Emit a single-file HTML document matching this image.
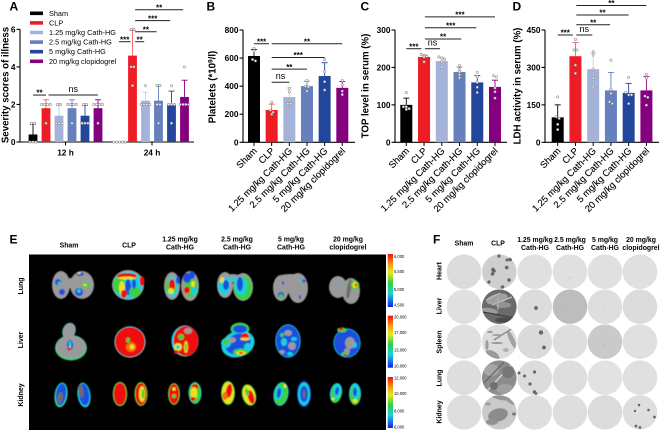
<!DOCTYPE html>
<html>
<head>
<meta charset="utf-8">
<style>
html,body{margin:0;padding:0;background:#fff;width:660px;height:431px;overflow:hidden}
svg{display:block;filter:blur(0.3px)}
text{font-family:"Liberation Sans",sans-serif;fill:#000}
</style>
</head>
<body>
<svg id="fig" xmlns="http://www.w3.org/2000/svg" width="660" height="431" viewBox="0 0 660 431">
<defs>
<filter id="soft" x="-20%" y="-20%" width="140%" height="140%"><feGaussianBlur stdDeviation="0.55"/></filter>
<linearGradient id="heat" x1="0" y1="0" x2="0" y2="1">
<stop offset="0" stop-color="#f01010"/><stop offset=".2" stop-color="#f0a010"/><stop offset=".35" stop-color="#e8e820"/><stop offset=".55" stop-color="#30d040"/><stop offset=".75" stop-color="#18d0e0"/><stop offset="1" stop-color="#1020e0"/>
</linearGradient>
<clipPath id="clip-clp-liver"><circle cx="499.3" cy="306.7" r="17.2"/></clipPath>
<clipPath id="clip-clp-lung"><circle cx="499.3" cy="377.7" r="17.2"/></clipPath>
<clipPath id="clip-clp-kidney"><circle cx="499.3" cy="412.3" r="17.2"/></clipPath>
<clipPath id="clip-clp-spleen"><circle cx="499.3" cy="341.7" r="17.2"/></clipPath>
</defs>
<rect x="0" y="0" width="660" height="431" fill="#fff"/>
<rect x="29" y="254.5" width="357" height="175.5" fill="#000"/>
<g id="charts"></g>
<g id="organs" filter="url(#soft)"></g>
<g id="plates"></g>
<g id="labels"></g>
</svg>
<script>
const categories = ['Sham','CLP','1.25 mg/kg Cath-HG','2.5 mg/kg Cath-HG','5 mg/kg Cath-HG','20 mg/kg clopidogrel'];
const seriesColors = ['#000000','#ee1c25','#a5b3d9','#6580bd','#21469b','#85007f'];
const groupsA = ['12 h','24 h'];
const ticksA = [0,2,4,6];
const means12 = [0.4,1.8,1.4,1.8,1.4,1.8];
const sd12 = [0.55,0.45,0.55,0.45,0.55,0.45];
const pts12 = [[1,1,0,0,0],[2,2,2,2,1],[2,2,1,1,1],[2,2,2,2,1],[2,2,1,1,1],[2,2,2,2,1]];
const means24 = [0,4.6,2.2,2.2,2,2.4];
const sd24 = [0,1.34,0.45,0.84,0.71,0.89];
const pts24 = [[0,0,0,0,0],[6,6,4,4,3],[3,2,2,2,2],[3,3,2,2,1],[3,2,2,2,1],[4,2,2,2,2]];
const sigA = [[0,1,2.5,'**'],[1.2,5,2.5,'ns'],[5.95,6.85,5.34,'***'],[7.2,7.9,5.34,'**'],[7.2,8.85,5.87,'**'],[7.2,9.9,6.46,'***'],[7.2,10.9,7.04,'**']];
const ticksB = [0,200,400,600,800];
const meansB = [615,230,322,400,472,388];
const sdB = [45,42,65,35,95,45];
const ptsB = [[670,650,590,580],[285,230,215,200],[385,360,275,275],[440,400,395,365],[590,503,432,373],[440,410,365,340]];
const sigB = [[0,0.85,702,'***'],[1,5,702,'**'],[1,4,604,'***'],[1,3,521,'**'],[1,2,428,'ns']];
const ticksC = [0,100,200,300];
const meansC = [100,228,217,188,160,148];
const sdC = [18,5,8,13,18,18];
const ptsC = [[133,95,95,90,88],[235,232,230,228,215],[228,225,222,215,200],[205,195,188,180,172],[187,175,160,147,133],[178,175,145,135,118]];
const sigC = [[0,0.85,250,'***'],[1.05,1.9,250,'ns'],[1.05,3.1,276,'**'],[1.05,3.95,306,'***'],[1.05,5,335,'***']];
const ticksD = [0,150,300,450];
const meansD = [100,345,293,208,198,208];
const sdD = [50,55,65,72,38,55];
const ptsD = [[182,102,96,72,51],[412,370,370,309,276],[363,350,293,256,222],[329,212,196,162,155],[260,200,190,190,155],[272,258,185,180,149]];
const sigD = [[0,0.85,430,'***'],[1.05,1.95,430,'ns'],[1.05,2.95,471,'**'],[1.05,4,510,'**'],[1.05,5,548,'**']];

const NS = 'http://www.w3.org/2000/svg';
function make(tag, parent, attrs, txt){
  const el = document.createElementNS(NS, tag);
  for (const k in attrs) el.setAttribute(k, attrs[k]);
  if (txt !== undefined) el.textContent = txt;
  parent.appendChild(el);
  return el;
}
const chartsG = document.getElementById('charts');

function drawAxes(g, id, x0, xEnd, yFn, ticks, title, titleX, titleCy){
  let el = make('line', g, {x1:x0, x2:x0, y1:yFn(ticks[ticks.length-1]), y2:yFn(ticks[0]), stroke:'#000','stroke-width':1.1});
  
  
  el = make('line', g, {x1:x0-0.5, x2:xEnd, y1:yFn(ticks[0]), y2:yFn(ticks[0]), stroke:'#000','stroke-width':1.1});
  
  
  ticks.forEach(function(t){
    const m = make('line', g, {x1:x0-3.5, x2:x0, y1:yFn(t), y2:yFn(t), stroke:'#000','stroke-width':1.1});
    
    
    const l = make('text', g, {x:x0-4.5, y:yFn(t)+3, 'text-anchor':'end','font-size':8.3,'font-weight':'bold'}, String(t));
    
    
  });
  const tt = make('text', g, {transform:'translate('+titleX+','+titleCy+') rotate(-90)','text-anchor':'middle','font-size':9.7,'font-weight':'bold'}, '');
  
  
  title.forEach(function(p){
    const s = make('tspan', tt, p.sup ? {dy:-3,'font-size':6.5} : (p.after ? {dy:3} : {}), p.t);
    
    
  });
}

function drawBar(g, id, cat, cx, yFn, mean, sd, pts, color, maxV, bw){
  const top = yFn(mean), base = yFn(0);
  let el = make('rect', g, {x:cx-bw/2, y:top, width:bw, height:Math.max(base-top,0), fill:color});
  
  
  if (sd > 0){
    const up = yFn(mean+sd);
    const errColor = color === '#ee1c25' ? '#f0606a' : (color === '#a5b3d9' ? '#c4cee8' : color);
    el = make('line', g, {x1:cx, x2:cx, y1:up, y2:top, stroke:errColor,'stroke-width':0.9});
    
    
    el = make('line', g, {x1:cx-3, x2:cx+3, y1:up, y2:up, stroke:errColor,'stroke-width':0.9});
    
    
  }
  const tol = 2.6;
  const placed = pts.map(function(v){ return {v:v, y:yFn(v), dx:0}; });
  const used = placed.map(function(){ return false; });
  placed.forEach(function(p,i){
    if (used[i]) return;
    const grp = [];
    placed.forEach(function(q,j){ if(!used[j] && Math.abs(q.y-p.y) < tol){ grp.push(q); used[j]=true; } });
    grp.forEach(function(q,k){ q.dx = (k-(grp.length-1)/2)*2.9; });
  });
  placed.forEach(function(p){
    const c = make('circle', g, {cx:cx+p.dx, cy:p.y, r:1.15, fill:'#fff', stroke:'#8a8a8a','stroke-width':0.55});
    
    
  });
}

function drawSig(g, id, list, xFn, yFn){
  list.forEach(function(s){
    const x1 = xFn(s[0]), x2 = xFn(s[1]), y = yFn(s[2]);
    const ln = make('line', g, {x1:x1, x2:x2, y1:y, y2:y, stroke:'#222','stroke-width':1});
    
    
    const isNs = s[3] === 'ns';
    const t = make('text', g, {x:(x1+x2)/2, y: isNs ? y-3 : y+0.6, 'text-anchor':'middle','font-size': isNs ? 9 : 8,'font-weight': isNs ? 'normal' : 'bold'}, s[3]);
    
    
  });
}

function drawPanel(id, x0, xEnd, first, step, maxV, ticks, means, sds, pts, sig, title, titleX, titleCy){
  const g = make('g', chartsG, {});
  
  
  const yFn = function(v){ return 142.3 - v/maxV*112.3; };
  const xFn = function(i){ return first + i*step; };
  drawAxes(g, id, x0, xEnd, yFn, ticks, title, titleX, titleCy);
  means.forEach(function(m,i){
    drawBar(g, id, i, xFn(i), yFn, m, sds[i], pts[i], seriesColors[i], maxV, 12);
    const tk = make('line', g, {x1:xFn(i), x2:xFn(i), y1:142.3, y2:146, stroke:'#000','stroke-width':1});
    
    
    const l = make('text', g, {transform:'translate('+(xFn(i)+3.5)+',151.5) rotate(-45)','text-anchor':'end','font-size':9.4,'stroke':'#000','stroke-width':0.12}, categories[i]);
    
    
  });
  drawSig(g, id, sig, xFn, yFn);
}

/* Panel A */
(function(){
  const g = make('g', chartsG, {});
  
  
  const yFn = function(v){ return 142 - v*18.78; };
  const xFn = function(i){ return i <= 5.5 ? 33 + i*13 : 119.5 + (i-6)*13; };
  drawAxes(g, 'a', 20, 194, yFn, ticksA, [{t:'Severity scores of illness'}], 8.5, 85);
  means12.forEach(function(m,i){ drawBar(g, 'a-12h', i, xFn(i), yFn, m, sd12[i], pts12[i], seriesColors[i], 6, 8.8); });
  means24.forEach(function(m,i){ drawBar(g, 'a-24h', i, xFn(i+6), yFn, m, sd24[i], pts24[i], seriesColors[i], 6, 8.8); });
  [65.5,152].forEach(function(x,i){
    const tk = make('line', g, {x1:x, x2:x, y1:142, y2:145.5, stroke:'#000','stroke-width':1});
    
    
    const l = make('text', g, {x:x, y:155.5, 'text-anchor':'middle','font-size':8.3,'font-weight':'bold'}, groupsA[i]);
    
    
  });
  drawSig(g, 'a', sigA, xFn, yFn);
  categories.forEach(function(c,i){
    const yy = 13.3 + i*9.6;
    const sw = make('rect', g, {x:30, y:yy-1.8, width:13, height:3.6, fill:seriesColors[i]});
    
    
    const t = make('text', g, {x:49, y:yy+2.5, 'font-size':7.3, fill:'#222'}, c);
    
    
  });
})();

drawPanel('b', 243, 355, 254, 17.66, 800, ticksB, meansB, sdB, ptsB, sigB, [{t:'Platelets (*10'},{t:'9',sup:true},{t:'/l)',after:true}], 215.5, 87);
drawPanel('c', 395, 507, 406.3, 17.74, 300, ticksC, meansC, sdC, ptsC, sigC, [{t:'TOP level in serum (%)'}], 368.5, 86);
drawPanel('d', 545, 659, 557.7, 17.74, 450, ticksD, meansD, sdD, ptsD, sigD, [{t:'LDH activity in serum (%)'}], 520.5, 86);

/* Panel E blobs */
const G='#9a9a9a',DG='#6c6c6c',B='#1a4fe0',C='#18d0e0',N='#3cd040',Y='#f0e020',R='#f01010',O='#f07010';
const organs = {
 'lung-sham':[[G,61,285,9,14,0],[G,82,285,12,14,0],[G,71,283,7,5,0],[B,58,282,3,3,0],[B,62,292,3,3,0],[C,59,283,1.5,1.5,0],[B,79,292,4,4,0],[C,79,291,2,2,0],[N,86,285,5,2,0],[Y,85,285,2,1,0],[B,80,274,4,2,0],[Y,79,273,2,1,0]],
 'lung-clp':[[G,128,285,16,15,0],[C,128,285,15,14,0],[N,119,285,6,8,0],[R,127,276,10,3,0],[Y,127,278,9,1.5,0],[R,142,281,2.5,5,0],[Y,122,288,3,7,0],[B,128,287,3,8,0],[N,135,292,6,5,0],[R,124,294,3,4,0],[B,134,284,2,5,0]],
 'lung-125':[[G,172,286,8,14,0],[G,190,286,9,15,0],[C,172,287,6,10,0],[N,171,287,5,7,0],[R,172,285,3,6,0],[Y,171,291,3,3,0],[B,178,280,2,4,0],[N,191,288,7,9,0],[B,187,278,4,5,0],[R,187,290,3,3.5,0],[Y,193,284,2,3,0],[B,192,275,3,4,0],[C,194,291,3,4,0]],
 'lung-25':[[G,225,285,8,13,0],[G,243,287,10,14,0],[G,233,278,8,4,0],[C,224,286,6,9,0],[B,226,285,3,5,0],[Y,222,280,2,3,0],[N,243,288,9,12,0],[C,241,286,6,9,0],[B,240,284,3,7,0],[C,233,279,5,2,0]],
 'lung-5':[[G,281,288,8,13,0],[G,298,288,10,15,0],[G,290,279,14,5,0],[B,281,295,3,3,0],[N,281,296,2,2,0],[B,303,281,3,1.5,0],[B,283,283,1,2,0],[B,300,297,1,2,0],[C,301,281,2,1,0]],
 'lung-20':[[G,338,287,9,11,0],[G,351,291,9,13,0],[DG,349,289,2,10,10],[N,355,285,4.5,4.5,0],[Y,355,285,2.5,3,0],[R,356,285,1.2,1.5,0],[C,340,286,0.8,0.8,0]],
 'liver-sham':[[C,69,331,6.5,8.5,20],[N,71,348,16,12.5,0],[C,71,347,15.5,12,0],[G,69,331,6,8,20],[G,71,347,15,11.5,0],[B,70,345,3,5,0],[C,70,344,1.5,3,0],[R,69,349,1.5,1.8,0],[Y,70,347,1,1,0]],
 'liver-clp':[[C,130,342,15.7,15.7,0],[R,130,342,15,15,0],[O,131,347,5,5,0],[N,128,340,2,2.5,0],[Y,132,347,2.5,2.5,0]],
 'liver-125':[[C,185,341,13.6,15.6,0],[R,186,341,12.5,15,0],[G,188,331,4,3,0],[N,181,337,3,3,0],[Y,178,347,4,4,0],[C,178,347,2,2,0],[Y,186,347,2,6,0],[N,186,347,1,4,0],[R,176,352,2,2,0]],
 'liver-25':[[N,240,329,9.5,6.5,0],[C,238,344,17,13,-20],[B,240,329,7,4,0],[B,238,344,13,10,-20],[C,226,343,5,5,0],[N,226,342,3,3,0],[G,232,340,4,3,0],[R,245,337,4,4,0],[Y,245,339,5,1.5,0],[N,241,352,8,3.5,0],[Y,241,353,5,2,0],[R,241,353,2,1,0],[C,248,347,4,4,0]],
 'liver-5':[[C,288,341,12.7,16.7,0],[B,288,341,12,16,0],[G,288,333,4,3,0],[C,284,342,3,4,0],[G,292,346,4,4,0],[C,294,339,3,2,0],[G,282,352,3,2,0],[N,282,335,2,2,0],[C,290,354,3,2,0]],
 'liver-20':[[C,347,343,13.6,14.6,0],[B,347,343,13,14,0],[G,350,343,5,6,0],[N,342,330,5,2.5,0],[R,341,329,2,1.5,0],[G,347,351,3,3,0],[N,345,354,4,2,0],[R,345,355,2,1,0],[C,355,345,2,3,0]],
 'kidney-sham-l':[[N,61,395,6.5,12.5,8],[C,61,394.5,6,12,8],[B,61,394.5,5,11,8],[DG,60,398,3,6,10]],
 'kidney-sham-r':[[C,84,395,6.5,12.5,-8],[B,84,394.5,5.2,11,-8],[DG,81,391,2.5,7,-8]],
 'kidney-clp-l':[[N,120,394,7.3,12.3,0],[R,120,394,6.3,11.3,0]],
 'kidney-clp-r':[[N,141,394,6.6,12,0],[R,141,394,5.6,11,0],[Y,142,394,3.2,8,0],[N,143,394,1.4,5,0]],
 'kidney-125-l':[[N,174,394,6,11,0],[R,174,394,5,10,0],[Y,174,389,1.8,1.8,0],[N,174,396,2,2,0]],
 'kidney-125-r':[[C,195,393,6.5,11,0],[N,195,393,5.8,10.3,0],[R,195,387,3.5,3,0],[Y,194,393,3.5,6,0],[R,193,399,2.5,2,0],[N,198,391,1,3,0]],
 'kidney-25-l':[[N,228,393,7,12,0],[Y,228,393,6,11,0],[R,229,391,3,7,10],[O,225,396,2.5,4,0]],
 'kidney-25-r':[[N,249,395,7,11,-15],[Y,249,395,6,10,-15],[R,251,397,3,7,-15],[N,247,392,1.8,4,-15]],
 'kidney-5-l':[[C,281,394,7.5,12,10],[N,281,394,6.5,11,10],[C,279,393,3.5,7,10],[B,279,393,2,5,10],[Y,285,386,1.5,2,0]],
 'kidney-5-r':[[B,304,394,7,13,0],[C,304,394,6,11.5,0],[B,304,394,4,8,0],[DG,304,394,1.8,4,0]],
 'kidney-20-l':[[C,336,393,6,10,10],[N,336,394,5.3,9,10],[C,337,392,3.6,6.5,10],[B,337,391,1.8,4,10],[Y,333,399,1.5,1.5,0]],
 'kidney-20-r':[[C,355,394,6,11,0],[N,355,395,5.2,10,0],[C,356,392,3.4,7,0],[B,355,392,1.8,4.5,0],[Y,355,401,2.5,2,0]]
};
const organsG = document.getElementById('organs');
Object.keys(organs).forEach(function(name){
  const g = make('g', organsG, {});
  
  
  organs[name].forEach(function(s){
    make('ellipse', g, {cx:s[1], cy:s[2], rx:s[3], ry:s[4], fill:s[0], transform:'rotate('+s[5]+' '+s[1]+' '+s[2]+')'});
  });
});

/* Panel F plates */
const plateX = [464,499.3,534.7,570,605,640];
const plateY = [271.7,306.7,341.7,377.7,412.3];
const plateFill = [
 ['#dcdcdc','#cfcfcf','#e0e0e0','#e0e0e0','#e0e0e0','#e0e0e0'],
 ['#e0e0e0','#6a6a6a','#dcdcdc','#bdbdbd','#dedede','#dcdcdc'],
 ['#e0e0e0','#dcdcdc','#dadada','#dedede','#cacaca','#e0e0e0'],
 ['#dedede','#8c8c8c','#dcdcdc','#dedede','#e2e2e2','#e0e0e0'],
 ['#dedede','#cacaca','#dedede','#dedede','#dcdcdc','#dedede']
];
const colonies = [
 [499,256,1.6],[510,259.5,1.8],[510.5,260,1.4],[507,260,1.5],[493,270,1.8],[492.5,274,1.8],[494,271,1.8],[489,282,1.6],[509,280,1.8],[502.5,287,1.8],[506.7,267.6,1.8],[493,269,1.5],
 [536,308,1.9],
 [541,332.5,2.2],[544,347.5,1.9],
 [519,373,1.5],[524.5,376,1.5],[534.5,372,1.6],[530,384,1.6],[534.5,392,1.7],[536,393.5,1.4],
 [639,405,1.3],[648.5,410,1.3],[635,411,1.2],[654.5,417,1.4],[636,426,1.4],[640,427.5,1.4]
];
const platesG = document.getElementById('plates');
plateY.forEach(function(y,r){
  plateX.forEach(function(x,c){
    const p = make('circle', platesG, {cx:x, cy:y, r:17.3, fill:plateFill[r][c]});
    
    
  });
});
function clpTexture(clip, items){
  const g = make('g', platesG, {'clip-path':'url(#' + clip + ')'});
  
  
  items.forEach(function(i){
    if (i[0] === 'l') make('line', g, {x1:i[1], y1:i[2], x2:i[3], y2:i[4], stroke:i[5], 'stroke-width':i[6]});
    else make('ellipse', g, {cx:i[1], cy:i[2], rx:i[3], ry:i[4], fill:i[5], transform:'rotate('+(i[6]||0)+' '+i[1]+' '+i[2]+')'});
  });
}
clpTexture('clip-clp-liver',[['e',497,299,11,5,'#a0a0a0',-15],['l',486,300,500,293,'#bdbdbd',1.2],['l',492,305,512,297,'#bdbdbd',1.4],['e',503,305,8,3,'#929292',0],['e',490,311,8,3,'#9c9c9c',10],['l',483,312,515,318,'#3c3c3c',1.2],['e',504,320,9,2.5,'#4a4a4a',0],['l',498,298,498,310,'#b8b8b8',1]]);
clpTexture('clip-clp-spleen',[['e',492,356,8,5,'#9a9a9a',30],['e',487,345,1.6,5,'#9c9c9c',0],['e',512,340,2.5,10,'#a2a2a2',-25],['l',494,340,516,326,'#8a8a8a',1.4],['e',497,343,6,0.9,'#8e8e8e',0],['e',497,335,5,0.9,'#9a9a9a',0],['e',506,350,3,2,'#b0b0b0',0],['e',490,332,3,0.9,'#8e8e8e',0]]);
clpTexture('clip-clp-lung',[['l',486,392,514,362,'#d4d4d4',1.4],['e',491,370,8,6,'#a6a6a6',0],['e',505,389,9,5,'#a0a0a0',0],['l',484,383,504,362,'#606060',1],['e',508,372,6,6,'#767676',0],['e',494,386,4,4,'#707070',0]]);
clpTexture('clip-clp-kidney',[['e',498,415,10,6.5,'#8c8c8c',-15],['e',492,422,6,3,'#929292',0],['e',502,398,10,2.2,'#969696',10],['e',511,402,5,1.8,'#9c9c9c',30],['e',514,414,2,1.5,'#7a7a7a',0],['e',488,404,3,1.6,'#a0a0a0',0]]);
colonies.forEach(function(d){
  const c = make('circle', platesG, {cx:d[0], cy:d[1], r:d[2], fill:'#666'});
  
  
});
[[570,278,0.5],[605,307,0.4],[566,307,0.3],[604,346,0.5],[640,371,0.4],[641,384,0.4]].forEach(function(d){
  const c = make('circle', platesG, {cx:d[0], cy:d[1], r:d[2], fill:'#888'});
  
  
});

/* Labels */
const labelsG = document.getElementById('labels');
const panelLetters = [['A',9.5,10.5],['B',206.5,10.5],['C',360.5,10.5],['D',512.5,10.5],['E',9.5,243.5],['F',433,243.5]];
panelLetters.forEach(function(p){
  const t = make('text', labelsG, {x:p[1], y:p[2], 'font-size':12,'font-weight':'bold',fill:'#000'}, p[0]);
  
  
});
const colE = [[69,['Sham']],[129,['CLP']],[180,['1.25 mg/kg','Cath-HG']],[237,['2.5 mg/kg','Cath-HG']],[291,['5 mg/kg','Cath-HG']],[348,['20 mg/kg','clopidogrel']]];
colE.forEach(function(c){
  c[1].forEach(function(line,i){
    const y = c[1].length === 1 ? 247.5 : 241.5 + i*8;
    const t = make('text', labelsG, {x:c[0], y:y, 'text-anchor':'middle','font-size':6.9,'font-weight':'bold'}, line);
    
    
  });
});
[['Lung',286],['Liver',340],['Kidney',395]].forEach(function(r){
  const t = make('text', labelsG, {transform:'translate(23,'+r[1]+') rotate(-90)','text-anchor':'middle','font-size':7,'font-weight':'bold'}, r[0]);
  
  
});
const colF = [[464,['Sham']],[498,['CLP']],[535,['1.25 mg/kg','Cath-HG']],[570,['2.5 mg/kg','Cath-HG']],[605,['5 mg/kg','Cath-HG']],[641,['20 mg/kg','clopidogrel']]];
colF.forEach(function(c){
  c[1].forEach(function(line,i){
    const y = c[1].length === 1 ? 245.5 : 242 + i*8;
    const t = make('text', labelsG, {x:c[0], y:y, 'text-anchor':'middle','font-size':6.9,'font-weight':'bold'}, line);
    
    
  });
});
[['Heart',271],['Liver',306],['Spleen',342],['Lung',378],['Kidney',412]].forEach(function(r){
  const t = make('text', labelsG, {transform:'translate(441.5,'+r[1]+') rotate(-90)','text-anchor':'middle','font-size':7,'font-weight':'bold'}, r[0]);
  
  
});
const colorbars = [[254,53,['6,000','5,500','5,000','4,500'],[256.7,271.7,289.7,305.3]],[315.7,52,['20,000','17,000','13,000','10,000'],[317.3,332.7,350.3,366]],[377,51,['12,000','10,000','8,000','6,000'],[378.3,393.7,411.3,427]]];
colorbars.forEach(function(b){
  const r = make('rect', labelsG, {x:387.7, y:b[0], width:5.3, height:b[1], fill:'url(#heat)'});
  
  
  b[2].forEach(function(s,i){
    const t = make('text', labelsG, {x:394, y:b[3][i]+1.4, 'font-size':4.1, fill:'#444'}, s);
    
    
  });
});
</script>
</body>
</html>
